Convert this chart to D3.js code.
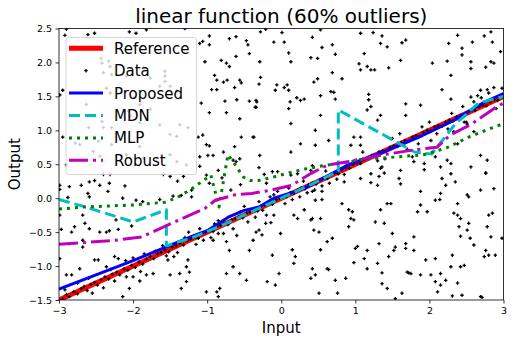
<!DOCTYPE html>
<html>
<head>
<meta charset="utf-8">
<script src="https://cdn.jsdelivr.net/npm/d3@7"></script>
<style>
  body { margin: 0; background: #fff; }
  text { font-family: 'DejaVu Sans', sans-serif; }
</style>
</head>
<body>
<div id="chart"></div>
<script>
// tick values
const xTicks = [-3, -2, -1, 0, 1, 2, 3]
const yTicks = [-1.5, -1.0, -0.5, 0.0, 0.5, 1.0, 1.5, 2.0, 2.5]

// fitted curves, [input, output]
const referenceLine = [[-3, -1.5], [3, 1.5]]
const proposedLine = [[-3, -1.34], [-2, -0.92], [-1.2, -0.56], [-1, -0.48], [-0.7, -0.27], [-0.5, -0.18],
  [-0.3, -0.13], [-0.1, 0.0], [0.2, 0.1], [0.4, 0.19], [0.6, 0.31], [0.9, 0.49], [1.4, 0.69],
  [1.9, 0.92], [2.3, 1.13], [2.5, 1.26], [2.75, 1.42], [3, 1.54]]
const mdnLine = [[-3, -0.02], [-2.67, -0.12], [-2.0, -0.35], [-1.55, -0.17], [-1.55, -0.70], [-1.2, -0.58],
  [-0.8, -0.40], [-0.4, -0.20], [0, 0.0], [0.4, 0.2], [0.77, 0.40], [0.77, 1.30], [1.8, 0.68],
  [2.03, 0.65], [2.34, 1.08], [2.66, 1.40], [3, 1.50]]
const mlpLine = [[-3, -0.16], [-2.67, -0.13], [-2.0, -0.10], [-1.57, -0.06], [-1.4, 0.01], [-1.22, 0.13],
  [-1.05, 0.26], [-0.95, 0.34], [-0.84, -0.13], [-0.72, 0.64], [-0.62, 0.49], [-0.51, 0.31],
  [-0.42, 0.26], [-0.31, 0.26], [-0.11, 0.31], [0.09, 0.37], [0.32, 0.43], [0.63, 0.49], [0.94, 0.54],
  [1.06, 0.57], [1.47, 0.60], [1.92, 0.64], [2.23, 0.74], [2.55, 0.91], [3, 1.10]]
const robustLine = [[-3, -0.68], [-2.24, -0.62], [-1.88, -0.57], [-1.48, -0.37], [-1.03, -0.15],
  [-0.89, -0.03], [-0.62, 0.05], [-0.4, 0.07], [-0.13, 0.12], [0.14, 0.19], [0.41, 0.37],
  [0.63, 0.49], [0.86, 0.53], [1.38, 0.64], [1.78, 0.71], [2.10, 0.75], [2.28, 0.93],
  [2.55, 1.08], [2.91, 1.35], [3, 1.40]]

// noisy observations, [input, output]
const dataPoints = [
  // top left
  [-2.90, 2.49], [-2.92, 2.40], [-2.61, 2.41], [-2.52, 2.43], [-2.05, 2.45], [-1.96, 2.43], [-1.82, 2.48],
  [-1.30, 2.50], [-2.95, 1.59], [-2.99, 1.52], [-2.95, 0.90], [-1.10, 2.28], [-1.06, 2.31], [-0.97, 2.39],
  [-0.97, 2.26], [-1.03, 2.01], [-0.81, 2.03], [-0.74, 1.99], [-0.70, 1.94], [-0.90, 1.81], [-0.87, 1.74],
  [-0.78, 1.71], [-0.73, 1.74], [-0.56, 1.74], [-0.63, 1.63], [-0.54, 1.70], [-0.94, 1.60], [-0.87, 1.60],
  [-0.60, 1.45], [-0.43, 1.43], [-0.76, 1.43], [-1.08, 1.40], [-0.97, 1.26], [-0.74, 1.26], [-0.56, 1.17],
  [-0.34, 1.44], [-0.34, 1.34], [-0.29, 2.01], [-0.70, 2.35], [-0.61, 2.38], [-0.47, 2.32], [-0.45, 2.26],
  [-0.43, 2.13], [-0.61, 2.09], [-1.12, 0.90], [-1.06, 0.93], [-1.01, 0.79], [-0.97, 0.77], [-1.10, 0.61],
  [-0.99, 0.63], [-0.92, 0.63], [-0.78, 0.68], [-0.63, 0.76], [-0.54, 0.90], [-0.38, 0.90], [-0.65, 0.56],
  [-0.56, 0.58], [-0.29, 0.63],
  // behind the legend
  [-2.43, 2.06], [-2.42, 1.99], [-2.33, 2.02], [-2.31, 1.94], [-2.40, 1.85], [-2.29, 1.82], [-2.09, 1.80],
  [-1.86, 1.92], [-1.77, 1.77], [-1.57, 1.87], [-1.57, 1.80], [-1.57, 1.72], [-1.64, 1.65], [-1.50, 1.65],
  [-1.41, 1.58], [-2.36, 1.62], [-2.31, 1.55], [-1.98, 1.48], [-1.91, 1.38], [-1.77, 1.31], [-2.04, 1.21],
  [-2.40, 1.04], [-2.29, 1.04], [-1.91, 1.11], [-1.64, 1.08], [-1.37, 1.08], [-1.26, 1.04], [-1.50, 0.94],
  [-1.41, 0.91], [-2.78, 0.81], [-2.72, 0.79], [-2.47, 0.84], [-2.29, 0.79], [-2.54, 0.69], [-2.45, 0.62],
  [-2.09, 0.64], [-1.86, 0.59], [-1.68, 0.54], [-1.41, 0.54], [-1.28, 0.49], [-2.90, 0.49], [-2.40, 0.35],
  [-2.31, 0.35], [-1.59, 0.35], [-1.50, 0.32], [-1.32, 0.32], [-2.42, 1.13], [-2.06, 1.28], [-2.63, 1.38],
  [-2.60, 1.04], [-1.91, 0.76], [-1.50, 0.64],
  // bottom left
  [-2.99, 0.19], [-2.99, 0.13], [-2.86, 0.17], [-2.70, 0.19], [-2.59, 0.24], [-2.52, 0.26], [-2.45, 0.19],
  [-2.32, 0.22], [-2.11, 0.18], [-2.34, 0.10], [-2.61, 0.07], [-2.88, 0.01], [-2.59, 0.02], [-2.14, 0.00],
  [-1.96, -0.03], [-1.87, -0.05], [-1.64, -0.02], [-1.46, 0.03], [-1.35, 0.04], [-1.21, 0.12], [-1.21, 0.02],
  [-1.10, 0.47], [-1.01, 0.34], [-0.97, 0.22], [-0.85, 0.41], [-0.61, 0.54], [-2.23, -0.32], [-2.02, -0.41],
  [-2.59, -0.45], [-2.68, -0.25], [-2.65, -0.37], [-2.79, -0.42], [-2.83, -0.50], [-2.97, -0.46],
  [-2.99, -0.25], [-2.45, -0.50], [-2.36, -0.50], [-2.32, -0.48], [-2.20, -0.46], [-2.68, -0.62],
  [-2.68, -0.72], [-2.86, -0.67], [-2.90, -1.13], [-2.83, -1.13], [-2.72, -1.04], [-2.52, -0.91],
  [-2.47, -0.91], [-2.36, -1.01], [-2.25, -0.86], [-2.20, -0.89], [-2.09, -1.16], [-2.00, -1.16],
  [-1.91, -1.22], [-2.14, -1.45], [-2.05, -1.33], [-1.82, -1.13], [-1.73, -1.11], [-1.53, -0.91],
  [-1.50, -1.13], [-1.37, -1.11], [-1.28, -1.01], [-1.24, -1.09], [-1.26, -0.91], [-1.35, -1.33],
  [-1.01, -1.38], [-0.87, -1.38], [-0.85, -1.45], [-0.83, -1.33], [-0.74, -1.11], [-0.65, -1.01],
  [-0.56, -1.11], [-0.47, -1.21], [-0.43, -0.77], [-0.34, -0.50], [-0.38, -0.62], [-1.28, -1.23],
  [-2.99, -0.89], [-0.92, -0.62], [-0.85, -0.52], [-0.74, -0.64], [-0.70, -0.77],
  [-0.80, 0.30], [-0.68, 0.12], [-0.55, 0.20], [-0.30, 0.45], [-0.20, 0.22], [-1.40, 0.25],
  // inliers, left half
  [-2.95, -1.49], [-2.90, -1.42], [-2.86, -1.45], [-2.80, -1.38], [-2.75, -1.41], [-2.70, -1.33],
  [-2.66, -1.30], [-2.62, -1.36], [-2.57, -1.27], [-2.52, -1.24], [-2.48, -1.28], [-2.43, -1.20],
  [-2.38, -1.16], [-2.33, -1.19], [-2.28, -1.12], [-2.22, -1.09], [-2.18, -1.13], [-2.12, -1.04],
  [-2.07, -1.06], [-2.02, -0.99], [-1.97, -1.02], [-1.92, -0.94], [-1.87, -0.97], [-1.82, -0.90],
  [-1.77, -0.86], [-1.72, -0.89], [-1.67, -0.82], [-1.62, -0.80], [-1.57, -0.76], [-1.52, -0.79],
  [-1.47, -0.72], [-1.42, -0.70], [-1.37, -0.66], [-1.32, -0.69], [-1.27, -0.62], [-1.22, -0.60],
  [-1.17, -0.57], [-1.12, -0.59], [-1.07, -0.52], [-1.02, -0.50], [-0.97, -0.47], [-0.92, -0.49],
  [-0.87, -0.42], [-0.82, -0.40], [-0.77, -0.37], [-0.72, -0.39], [-0.67, -0.32], [-0.62, -0.30],
  [-0.57, -0.27], [-0.52, -0.29], [-0.47, -0.22], [-0.42, -0.20], [-0.37, -0.17], [-0.32, -0.19],
  [-0.27, -0.12], [-0.22, -0.10], [-0.17, -0.07], [-0.12, -0.09], [-0.07, -0.02], [-0.02, 0.00],
  [-2.60, -1.18], [-2.40, -1.32], [-2.10, -0.92], [-1.90, -1.08], [-1.60, -0.70], [-1.45, -0.86],
  [-1.25, -0.50], [-1.15, -0.68], [-0.95, -0.58], [-0.85, -0.33], [-0.65, -0.45], [-0.55, -0.20],
  [-0.45, -0.35], [-0.30, -0.05], [-0.20, -0.25], [-0.10, 0.05], [-1.05, -0.62], [-0.78, -0.52],
  [-0.60, -0.55], [-0.35, -0.28], [-1.30, -0.58], [-1.40, -0.80], [-1.70, -0.78], [-2.00, -0.88],
  [-2.25, -1.22], [-2.75, -1.25], [-2.92, -1.35], [-2.55, -1.40], [-2.30, -1.05], [-1.85, -0.82],
  [-1.55, -0.85], [-1.10, -0.45], [-0.90, -0.38], [-0.50, -0.12], [-0.25, -0.18], [-0.15, 0.02],
  // top right
  [-0.28, 2.45], [-0.21, 2.49], [-0.10, 2.30], [0.01, 2.44], [0.04, 2.30], [0.10, 2.14], [0.13, 2.01],
  [0.42, 2.37], [0.40, 2.07], [0.49, 2.06], [0.55, 2.22], [0.69, 2.26], [0.73, 2.12], [0.53, 2.48],
  [1.07, 2.43], [1.24, 2.44], [1.36, 2.39], [1.34, 2.28], [1.43, 2.23], [1.63, 2.29], [1.68, 2.33],
  [1.12, 2.13], [1.61, 2.03], [1.05, 1.98], [1.07, 1.89], [1.16, 1.94], [1.21, 1.89], [1.26, 1.89],
  [1.45, 1.92], [2.04, 1.99], [2.24, 2.02], [2.44, 2.21], [2.58, 2.30], [2.74, 2.39], [2.83, 2.45],
  [2.85, 2.30], [2.96, 2.16], [2.38, 2.40], [2.26, 2.28], [2.29, 1.81], [2.44, 2.11], [2.56, 2.01],
  [2.56, 1.91], [2.76, 1.93], [2.87, 1.99], [2.83, 2.01], [-0.28, 1.78], [-0.30, 1.68], [-0.06, 1.67],
  [-0.08, 1.59], [0.04, 1.63], [0.08, 1.67], [0.10, 1.59], [0.12, 1.42], [0.10, 1.32], [0.21, 1.48],
  [0.26, 1.44], [0.31, 1.46], [0.44, 1.71], [0.49, 1.76], [0.69, 1.85], [0.82, 1.76], [0.67, 1.57],
  [0.71, 1.56], [0.73, 1.46], [0.53, 1.51], [-0.33, 1.42], [-0.35, 1.34], [0.13, 1.10], [0.53, 1.22],
  [1.18, 1.53], [1.18, 1.45], [1.21, 1.35], [1.16, 1.30], [1.07, 0.90], [0.46, 0.78], [0.46, 1.00],
  [0.98, 0.90], [0.94, 0.78], [1.07, 0.78], [1.30, 1.15], [1.34, 1.22], [1.68, 1.39], [1.68, 1.22],
  [1.88, 1.37], [2.17, 1.60], [2.29, 1.46], [2.56, 1.49], [2.65, 1.51], [2.69, 1.59], [2.78, 1.60],
  [2.87, 1.63], [2.98, 1.62], [-0.37, 0.90], [0.13, 0.68], [0.26, 0.80], [0.64, 0.85], [2.60, 0.98],
  [2.51, 1.09], [2.47, 1.12], [2.33, 0.98], [2.02, 0.85], [2.69, 0.63], [2.78, 0.56], [2.38, 0.80],
  [2.24, 0.56], [2.29, 0.36], [2.08, 0.61], [1.93, 0.51], [1.77, 0.61], [1.61, 0.41], [1.34, 0.44],
  [1.21, 0.36], [0.42, 0.48], [0.40, 0.41], [0.22, 0.36], [0.13, 0.34], [-0.23, 0.35], [-0.12, 0.39],
  [-0.05, 0.39], [2.76, 0.37],
  // bottom right
  [1.79, 0.54], [1.93, 0.42], [2.15, 0.46], [2.29, 0.51], [2.56, 0.46], [2.76, 0.37], [2.17, 0.29],
  [2.35, 0.24], [2.22, 0.19], [1.59, 0.29], [1.61, 0.21], [1.30, 0.19], [1.32, 0.32], [1.39, 0.37],
  [1.36, 0.46], [1.21, 0.23], [1.07, 0.29], [0.85, 0.24], [0.82, -0.08], [0.55, -0.02], [0.55, 0.10],
  [0.46, -0.03], [0.42, 0.10], [0.91, -0.17], [0.96, -0.20], [0.98, -0.32], [0.94, -0.30], [0.91, -0.42],
  [1.34, -0.17], [1.27, -0.35], [1.39, -0.37], [1.43, -0.08], [1.48, -0.08], [1.88, 0.10], [1.88, -0.10],
  [1.84, -0.20], [1.97, -0.20], [2.08, -0.03], [2.15, 0.07], [2.14, -0.02], [2.38, -0.08], [2.33, -0.22],
  [2.38, -0.25], [2.42, -0.30], [2.40, -0.42], [2.42, -0.56], [2.51, -0.47], [2.53, -0.37], [2.55, -0.59],
  [2.60, -0.69], [2.51, 0.05], [2.53, 0.02], [2.69, 0.12], [2.87, 0.14], [2.80, -0.25], [2.85, -0.22],
  [2.78, -0.42], [2.83, -0.57], [2.76, -0.77], [2.80, -0.84], [2.74, -0.86], [2.89, -0.84], [2.98, -0.59],
  [2.31, -0.84], [2.29, -1.01], [2.15, -1.11], [2.22, -1.21], [2.08, -1.23], [2.11, -1.38], [2.38, -1.25],
  [2.31, -1.44], [2.47, -0.99], [2.42, -1.01], [2.69, -1.45], [2.71, -1.46], [2.44, -1.43], [2.08, -0.89],
  [1.95, -0.91], [1.75, -1.11], [1.70, -1.09], [1.88, -1.13], [2.02, -1.13], [1.79, -0.77], [1.79, -0.57],
  [1.68, -0.67], [1.68, -0.74], [1.54, -0.72], [1.52, -0.77], [1.45, -0.86], [1.50, -0.52], [1.32, -0.67],
  [1.16, -0.77], [1.12, -0.89], [1.16, -1.04], [1.03, -0.71], [1.00, -0.74], [0.98, -0.95], [0.62, -1.04],
  [0.64, -1.05], [0.53, -0.76], [0.46, -1.13], [0.42, -1.04], [0.40, -1.18], [0.19, -0.86], [0.17, -0.96],
  [0.15, -0.76], [-0.12, -0.84], [-0.19, -1.23], [-0.08, -1.28], [-0.03, -1.11], [0.51, -1.40],
  [0.76, -1.40], [0.73, -1.21], [0.87, -1.18], [1.30, -0.96], [1.36, -1.10], [1.36, -1.26], [1.43, -1.33],
  [1.54, -1.48], [1.63, -1.40], [1.72, -1.10], [2.15, -1.28], [0.53, -0.30], [0.31, -0.17], [0.40, -0.32],
  [0.42, -0.30], [0.51, -0.50], [0.44, -0.47], [-0.01, -0.52], [-0.26, -0.54], [-0.30, -0.47],
  [-0.21, -0.37], [-0.14, -0.36], [-0.10, -0.25], [0.17, -0.25], [0.22, -0.30], [0.69, -0.59], [0.62, -0.64],
  // inliers, right half
  [0.02, 0.03], [0.07, 0.02], [0.12, 0.08], [0.17, 0.07], [0.22, 0.12], [0.27, 0.15], [0.32, 0.14],
  [0.37, 0.20], [0.42, 0.22], [0.47, 0.21], [0.52, 0.27], [0.57, 0.30], [0.62, 0.29], [0.67, 0.35],
  [0.72, 0.37], [0.77, 0.36], [0.82, 0.42], [0.87, 0.45], [0.92, 0.44], [0.97, 0.50], [1.02, 0.52],
  [1.07, 0.51], [1.12, 0.57], [1.17, 0.60], [0.05, -0.08], [0.15, -0.02], [0.25, 0.02], [0.35, 0.08],
  [0.45, 0.12], [0.55, 0.18], [0.65, 0.22], [0.75, 0.28], [0.10, 0.15], [0.30, 0.25], [-0.05, 0.10],
  [1.22, 0.63], [1.27, 0.61], [1.32, 0.68], [1.37, 0.70], [1.42, 0.69], [1.47, 0.75], [1.52, 0.77],
  [1.57, 0.76], [1.62, 0.82], [1.67, 0.85], [1.72, 0.84], [1.77, 0.90], [1.82, 0.92], [1.87, 0.91],
  [1.92, 0.97], [1.97, 1.00], [2.02, 0.99], [2.07, 1.05], [2.12, 1.07], [2.17, 1.06], [2.22, 1.12],
  [2.27, 1.15], [2.32, 1.14], [2.37, 1.20], [2.42, 1.22], [2.47, 1.21], [2.52, 1.27], [2.57, 1.30],
  [2.62, 1.29], [2.67, 1.35], [2.72, 1.37], [2.77, 1.36], [2.82, 1.42], [2.87, 1.45], [2.92, 1.44],
  [2.97, 1.50], [1.30, 0.55], [1.50, 0.88], [1.70, 0.72], [1.90, 1.05], [2.10, 0.95], [2.30, 1.25],
  [2.50, 1.12], [2.70, 1.48], [2.90, 1.32], [2.00, 1.12], [1.60, 0.95], [2.60, 1.42], [2.80, 1.55],
  [0.60, 0.40], [0.85, 0.35], [1.10, 0.68], [1.40, 0.58], [1.85, 0.80], [2.25, 1.02], [2.45, 1.35]
]

const legendLabels = ['Reference', 'Data', 'Proposed', 'MDN', 'MLP', 'Robust']

// set the dimensions and margins of the graph
const margin = { top: 28.5, right: 10.5, bottom: 43, left: 59 },
  width = 514 - margin.left - margin.right,
  height = 343 - margin.top - margin.bottom

const svg = d3.select('#chart')
  .append('svg')
  .attr('width', 514)
  .attr('height', 343)

const plot = svg.append('g')
  .attr('transform', 'translate(' + margin.left + ',' + margin.top + ')')

const x = d3.scaleLinear().domain([-3, 3]).range([0, width])
const y = d3.scaleLinear().domain([-1.5, 2.5]).range([height, 0])

plot.append('clipPath').attr('id', 'clip')
  .append('rect').attr('width', width).attr('height', height)

// line styles, matplotlib-like
const styles = {
  Reference: { data: referenceLine, color: '#ff0000', width: 5, dash: null },
  Proposed: { data: proposedLine, color: '#0000ff', width: 3, dash: null },
  MDN: { data: mdnLine, color: '#00bfbf', width: 3, dash: '11,5' },
  MLP: { data: mlpLine, color: '#008000', width: 3, dash: '3,5' },
  Robust: { data: robustLine, color: '#bf00bf', width: 3, dash: '19,5,3,5' }
}

const line = d3.line().x(d => x(d[0])).y(d => y(d[1]))
const body = plot.append('g').attr('clip-path', 'url(#clip)')

function drawCurve(name) {
  const s = styles[name]
  body.append('path')
    .datum(s.data)
    .attr('fill', 'none')
    .attr('stroke', s.color)
    .attr('stroke-width', s.width)
    .attr('stroke-dasharray', s.dash)
    .attr('stroke-linejoin', 'round')
    .attr('d', line)
}

function drawDot(g, cx, cy) {
  g.append('path')
    .attr('d', 'M' + (cx - 1.7) + ',' + cy + 'h3.4M' + cx + ',' + (cy - 1.7) + 'v3.4')
    .attr('stroke', '#000')
    .attr('stroke-width', 1.3)
}

drawCurve('Reference')

// scatter
const dots = body.append('g')
dataPoints.forEach(d => drawDot(dots, x(d[0]), y(d[1])))

drawCurve('Proposed')
drawCurve('MDN')
drawCurve('MLP')
drawCurve('Robust')

// axes
const xAxis = plot.append('g')
  .attr('transform', 'translate(0,' + height + ')')
  .call(d3.axisBottom(x).tickValues(xTicks).tickSize(3.5).tickPadding(3.5).tickFormat(d3.format('d')))
const yAxis = plot.append('g')
  .call(d3.axisLeft(y).tickValues(yTicks).tickSize(3.5).tickPadding(3.5).tickFormat(d3.format('.1f')))

;[xAxis, yAxis].forEach(a => {
  a.select('.domain').remove()
  a.selectAll('text').style('font-size', '9.5px').attr('fill', '#000')
  a.selectAll('line').attr('stroke', '#000').attr('stroke-width', 0.8)
})

plot.append('rect')
  .attr('width', width)
  .attr('height', height)
  .attr('fill', 'none')
  .attr('stroke', '#000')
  .attr('stroke-width', 0.8)

// labels
svg.append('text')
  .attr('x', margin.left + width / 2)
  .attr('y', 23)
  .attr('text-anchor', 'middle')
  .style('font-size', '20px')
  .text('linear function (60% outliers)')

svg.append('text')
  .attr('x', margin.left + width / 2)
  .attr('y', 333)
  .attr('text-anchor', 'middle')
  .style('font-size', '15px')
  .text('Input')

svg.append('text')
  .attr('transform', 'translate(20,' + (margin.top + height / 2) + ') rotate(-90)')
  .attr('text-anchor', 'middle')
  .style('font-size', '15px')
  .text('Output')

// legend
const legend = svg.append('g').attr('transform', 'translate(66,37.5)')
legend.append('rect')
  .attr('width', 130.5)
  .attr('height', 137)
  .attr('rx', 2.5)
  .attr('fill', '#fff')
  .attr('fill-opacity', 0.8)
  .attr('stroke', '#cccccc')
  .attr('stroke-width', 0.8)

legendLabels.forEach((label, i) => {
  const cy = 10.8 + i * 22.4
  if (label === 'Data') {
    drawDot(legend, 20, cy)
  } else {
    const s = styles[label]
    legend.append('line')
      .attr('x1', 3).attr('x2', 37)
      .attr('y1', cy).attr('y2', cy)
      .attr('stroke', s.color)
      .attr('stroke-width', s.width)
      .attr('stroke-dasharray', s.dash)
  }
  legend.append('text')
    .attr('x', 48)
    .attr('y', cy + 5.5)
    .style('font-size', '15px')
    .text(label)
})
</script>
</body>
</html>
